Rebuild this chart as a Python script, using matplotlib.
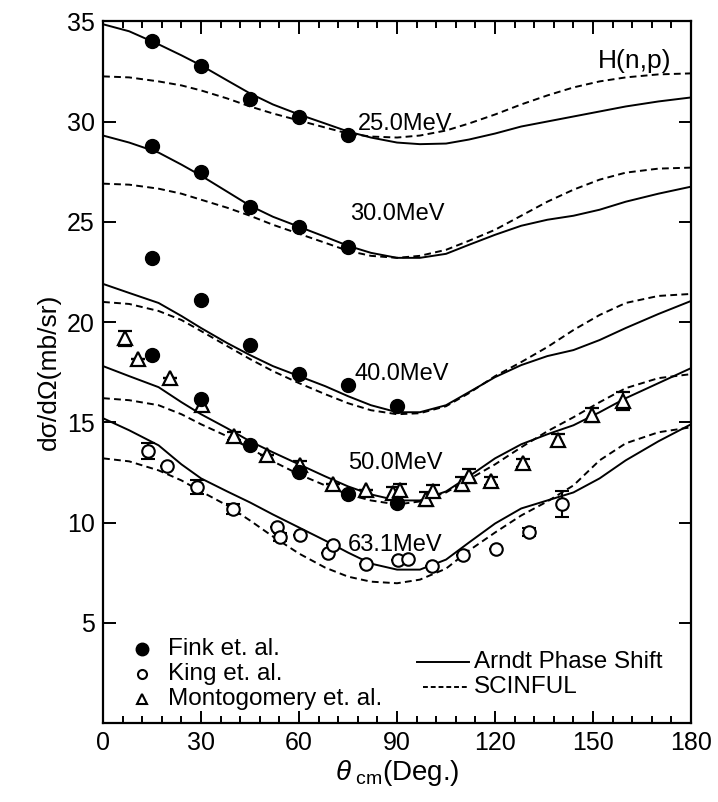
import numpy as np
import matplotlib
matplotlib.use('Agg')
import matplotlib.pyplot as plt
from matplotlib.ticker import MultipleLocator

plt.rcParams['font.family'] = ['Liberation Sans', 'DejaVu Sans']
plt.rcParams['mathtext.fontset'] = 'custom'
plt.rcParams['mathtext.rm'] = 'Liberation Sans'
plt.rcParams['mathtext.it'] = 'Liberation Sans:italic'

# угловая сетка для расчётных кривых
theta = [0, 8, 17, 24, 30, 38, 45, 52, 60, 68, 75, 82, 90, 97, 105, 112, 120, 128, 136, 144, 152, 160, 170, 180]

# Arndt Phase Shift (сплошные)
arndt_25 = [34.85, 34.5, 33.85, 33.3, 32.8, 32.05, 31.4, 30.85, 30.35, 29.9, 29.5, 29.2, 28.95, 28.87, 28.9, 29.1,
            29.4, 29.75, 30.0, 30.25, 30.5, 30.75, 31.0, 31.2]
arndt_30 = [29.3, 28.95, 28.45, 27.85, 27.3, 26.5, 25.8, 25.25, 24.75, 24.25, 23.8, 23.45, 23.2, 23.2, 23.4, 23.85,
            24.35, 24.8, 25.1, 25.3, 25.6, 26.0, 26.4, 26.75]
arndt_40 = [21.9, 21.45, 20.95, 20.3, 19.7, 18.95, 18.35, 17.8, 17.3, 16.8, 16.3, 15.85, 15.5, 15.5, 15.85, 16.5,
            17.25, 17.85, 18.3, 18.6, 19.1, 19.7, 20.4, 21.05]
arndt_50 = [17.8, 17.3, 16.75, 16.0, 15.4, 14.7, 14.05, 13.5, 12.9, 12.3, 11.8, 11.4, 11.1, 11.1, 11.55, 12.3,
            13.2, 13.9, 14.4, 14.85, 15.5, 16.2, 16.95, 17.7]
arndt_63 = [15.2, 14.6, 13.85, 12.9, 12.2, 11.55, 11.0, 10.4, 9.75, 9.1, 8.5, 7.95, 7.65, 7.65, 8.15, 9.0,
            9.95, 10.7, 11.1, 11.5, 12.2, 13.1, 14.05, 14.9]

# SCINFUL (пунктир)
scin_25 = [32.25, 32.2, 32.0, 31.8, 31.55, 31.15, 30.75, 30.4, 30.05, 29.7, 29.4, 29.25, 29.2, 29.3, 29.55, 29.9,
           30.35, 30.85, 31.3, 31.7, 32.0, 32.2, 32.35, 32.4]
scin_30 = [26.9, 26.85, 26.65, 26.4, 26.1, 25.7, 25.3, 24.85, 24.4, 23.95, 23.55, 23.3, 23.2, 23.3, 23.6, 24.05,
           24.6, 25.3, 26.0, 26.6, 27.1, 27.45, 27.65, 27.7]
scin_40 = [21.0, 20.9, 20.55, 20.1, 19.55, 18.8, 18.15, 17.55, 16.95, 16.4, 15.95, 15.6, 15.4, 15.45, 15.8, 16.45,
           17.3, 18.0, 18.75, 19.6, 20.35, 20.95, 21.3, 21.4]
scin_50 = [16.2, 16.1, 15.85, 15.4, 14.9, 14.3, 13.7, 13.05, 12.4, 11.85, 11.4, 11.1, 10.9, 11.05, 11.5, 12.15,
           12.9, 13.75, 14.55, 15.25, 16.0, 16.7, 17.2, 17.4]
scin_63 = [13.2, 13.05, 12.6, 12.1, 11.55, 10.85, 10.1, 9.3, 8.45, 7.75, 7.3, 7.05, 6.97, 7.15, 7.7, 8.6,
           9.5, 10.35, 11.05, 11.85, 13.1, 13.95, 14.5, 14.75]

# Fink et. al.
fink_th = [15, 30, 45, 60, 75, 15, 30, 45, 60, 75, 15, 30, 45, 60, 75, 90, 15, 30, 45, 60, 75, 90]
fink_y = [34.0, 32.75, 31.1, 30.2, 29.35,
          28.8, 27.5, 25.75, 24.72, 23.75,
          23.2, 21.1, 18.85, 17.4, 16.85, 15.8,
          18.35, 16.15, 13.85, 12.5, 11.4, 10.95]

# King et. al.
king_th = [13.9, 19.7, 28.7, 39.9, 53.2, 54.2, 60.3, 69.0, 70.3, 80.5, 90.4, 93.5, 100.6, 110.3, 120.2, 130.4, 140.4]
king_y = [13.58, 12.8, 11.75, 10.68, 9.77, 9.3, 9.38, 8.47, 8.88, 7.92, 8.15, 8.2, 7.85, 8.38, 8.67, 9.55, 10.9]
king_err = [0.4, 0.0, 0.35, 0.25, 0.0, 0.2, 0.0, 0.0, 0.0, 0.0, 0.0, 0.0, 0.0, 0.0, 0.0, 0.2, 0.65]

# Montogomery et. al.
mont_th = [6.7, 10.6, 20.5, 30.2, 40.1, 50.3, 60.3, 70.3, 80.5, 88.8, 91.0, 99.0, 101.0, 110.0, 112.0, 118.9, 128.4, 139.2, 149.6, 159.3]
mont_y = [19.18, 18.13, 17.2, 15.85, 14.33, 13.38, 12.88, 11.93, 11.6, 11.47, 11.6, 11.15, 11.55, 11.9, 12.3, 12.05, 12.97, 14.13, 15.38, 16.08]
mont_err = [0.37, 0.0, 0.0, 0.25, 0.2, 0.0, 0.2, 0.0, 0.0, 0.3, 0.3, 0.35, 0.3, 0.35, 0.35, 0.2, 0.2, 0.3, 0.35, 0.45]

energies = ['25.0MeV', '30.0MeV', '40.0MeV', '50.0MeV', '63.1MeV']
label_pos = [(78, 29.9), (75.5, 25.4), (77, 17.4), (75, 12.96), (75, 8.9)]

fig = plt.figure(figsize=(7.18, 8.02), dpi=100)
ax = fig.add_axes([0.1435, 0.0985, 0.819, 0.875])

for a in [arndt_25, arndt_30, arndt_40, arndt_50, arndt_63]:
    ax.plot(theta, a, color='black', lw=1.4)
for s in [scin_25, scin_30, scin_40, scin_50, scin_63]:
    ax.plot(theta, s, color='black', lw=1.4, ls=(0, (3.5, 2.2)))

ax.errorbar(king_th, king_y, yerr=king_err, fmt='o', ms=9, mfc='white', mec='black',
            mew=1.5, ecolor='black', elinewidth=1.5, capsize=5, capthick=1.5, zorder=3)
ax.errorbar(mont_th, mont_y, yerr=mont_err, fmt='^', ms=10, mfc='white', mec='black',
            mew=1.6, ecolor='black', elinewidth=1.5, capsize=5, capthick=1.5, zorder=3)
ax.plot(fink_th, fink_y, 'o', ms=10, color='black', zorder=4)

for name, (x, y) in zip(energies, label_pos):
    ax.text(x, y, name, fontsize=17, va='center', ha='left')
ax.text(174, 33.0, 'H(n,p)', fontsize=19, va='center', ha='right')

# легенда вручную
ax.plot([12], [3.7], 'o', ms=9, color='black')
ax.plot([12], [2.45], 'o', ms=6.5, mfc='white', mec='black', mew=1.5)
ax.plot([12], [1.2], '^', ms=7, mfc='white', mec='black', mew=1.5)
ax.text(20, 3.7, 'Fink et. al.', fontsize=17.5, va='center')
ax.text(20, 2.45, 'King et. al.', fontsize=17.5, va='center')
ax.text(20, 1.2, 'Montogomery et. al.', fontsize=17.5, va='center')
ax.plot([96, 112], [3.05, 3.05], color='black', lw=1.4)
ax.plot([98, 112], [1.8, 1.8], color='black', lw=1.4, ls=(0, (2.5, 1.5)))
ax.text(113.5, 3.05, 'Arndt Phase Shift', fontsize=17.5, va='center')
ax.text(113.5, 1.8, 'SCINFUL', fontsize=17.5, va='center')

ax.set_xlim(0, 180)
ax.set_ylim(0, 35)
ax.xaxis.set_major_locator(MultipleLocator(30))
ax.xaxis.set_minor_locator(MultipleLocator(6))
ax.set_yticks([5, 10, 15, 20, 25, 30, 35])
ax.tick_params(which='both', direction='in', top=True, right=True, width=1.4)
ax.tick_params(which='major', length=9, labelsize=18, pad=6)
ax.tick_params(which='minor', length=5)
for sp in ax.spines.values():
    sp.set_linewidth(1.6)

ax.set_xlabel(r'$\theta_{\rm\ cm}$(Deg.)', fontsize=20, labelpad=2)
ax.set_ylabel('dσ/dΩ(mb/sr)', fontsize=19, labelpad=4)

fig.savefig('out.png', dpi=100)
